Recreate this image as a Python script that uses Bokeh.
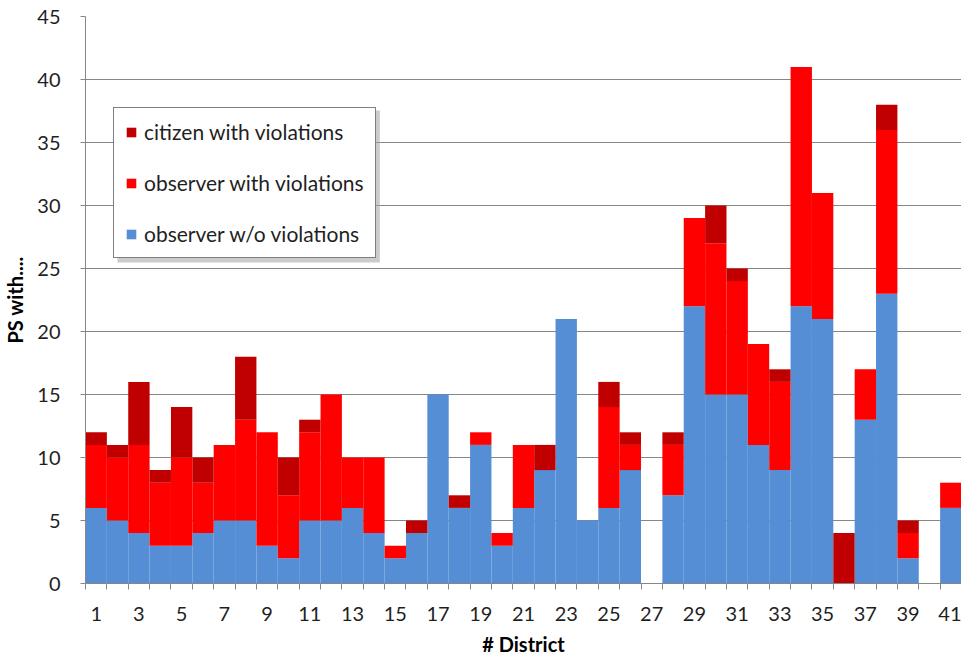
from bokeh.plotting import figure
from bokeh.models import (ColumnDataSource, FixedTicker, Legend, LegendItem,
                          Range1d, BoxAnnotation)
from bokeh.embed import file_html
from bokeh.resources import INLINE

districts = list(range(1, 42))
observer_wo = [6, 5, 4, 3, 3, 4, 5, 5, 3, 2, 5, 5, 6, 4, 2, 4, 15, 6, 11, 3, 6,
               9, 21, 5, 6, 9, 0, 7, 22, 15, 15, 11, 9, 22, 21, 0, 13, 23, 2, 0, 6]
observer_with = [5, 5, 7, 5, 7, 4, 6, 8, 9, 5, 7, 10, 4, 6, 1, 0, 0, 0, 1, 1, 5,
                 0, 0, 0, 8, 2, 0, 4, 7, 12, 9, 8, 7, 19, 10, 0, 4, 13, 2, 0, 2]
citizen_with = [1, 1, 5, 1, 4, 2, 0, 5, 0, 3, 1, 0, 0, 0, 0, 1, 0, 1, 0, 0, 0,
                2, 0, 0, 2, 1, 0, 1, 0, 3, 1, 0, 1, 0, 0, 4, 0, 2, 1, 0, 0]
series = ["observer_wo", "observer_with", "citizen_with"]
labels = ["observer w/o violations", "observer with violations", "citizen with violations"]
colors = ["#558ED5", "#FF0000", "#C00000"]
y_ticks = list(range(0, 46, 5))
x_label_ticks = list(range(1, 42, 2))
x_title = "# District"
y_title = "PS with...."

src = ColumnDataSource(dict(x=districts, observer_wo=observer_wo,
                            observer_with=observer_with, citizen_with=citizen_with))

W, H = 961, 658
BL, BR, BT, BB = 83, 0, 16, 75
p = figure(width=W, height=H, output_backend="svg", toolbar_location=None,
           x_range=Range1d(0.5, 41.5), y_range=Range1d(0, 45),
           min_border_left=BL, min_border_right=BR, min_border_top=BT,
           min_border_bottom=BB)
p.outline_line_color = None
p.background_fill_color = "white"

renderers = p.vbar_stack(series, x="x", width=1.0, source=src,
                         fill_color=colors, line_color=None)

FONT = "Lato"
GRAY = "#868686"
TXT = "#1f1f1f"

fw, fh = float(W - BL - BR), float(H - BT - BB)
xpx = 41.0 / fw
ypx = 45.0 / fh

# Y axis
p.yaxis.ticker = FixedTicker(ticks=y_ticks)
p.yaxis.axis_line_color = GRAY
p.yaxis.major_tick_line_color = GRAY
p.yaxis.major_tick_out = 5
p.yaxis.major_tick_in = 0
p.yaxis.minor_tick_line_color = None
p.yaxis.major_label_text_font = FONT
p.yaxis.major_label_text_font_size = "20px"
p.yaxis.major_label_text_color = TXT
p.yaxis.major_label_standoff = 20
p.yaxis.axis_label = y_title
p.yaxis.axis_label_text_font = FONT
p.yaxis.axis_label_text_font_style = "bold"
p.yaxis.axis_label_text_font_size = "20px"
p.yaxis.axis_label_text_color = "#000000"
p.yaxis.axis_label_standoff = 7

# X axis
p.xaxis.ticker = FixedTicker(ticks=x_label_ticks,
                             minor_ticks=[d - 0.5 for d in districts] + [41.5])
p.xaxis.axis_line_color = GRAY
p.xaxis.major_tick_line_color = GRAY
p.xaxis.major_tick_out = 6
p.xaxis.major_tick_in = 0
p.xaxis.major_tick_line_alpha = 0
p.xaxis.minor_tick_line_color = GRAY
p.xaxis.minor_tick_out = 6
p.xaxis.minor_tick_in = 0
p.xaxis.major_label_text_font = FONT
p.xaxis.major_label_text_font_size = "20px"
p.xaxis.major_label_text_color = TXT
p.xaxis.major_label_text_line_height = 1.0
p.xaxis.major_label_standoff = 17
p.xaxis.axis_label = x_title
p.xaxis.axis_label_text_font = FONT
p.xaxis.axis_label_text_font_style = "bold"
p.xaxis.axis_label_text_font_size = "20px"
p.xaxis.axis_label_text_color = "#000000"
p.xaxis.axis_label_text_line_height = 0.7
p.xaxis.axis_label_standoff = 8

p.xgrid.grid_line_color = None
p.ygrid.ticker = FixedTicker(ticks=y_ticks)
p.ygrid.grid_line_color = GRAY
p.ygrid.grid_line_width = 1

# legend shadow (decoration)
lx, ly, lw, lh = 28, 325, 263, 152
shadow = BoxAnnotation(left=0.5 + (lx + 4) * xpx, right=0.5 + (lx + lw + 4) * xpx,
                       bottom=(ly - 4) * ypx, top=(ly + lh - 4) * ypx,
                       fill_color="#a8a8a8", fill_alpha=0.6, line_color=None,
                       level="annotation")
p.add_layout(shadow)

items = [LegendItem(label=labels[i], renderers=[renderers[i]]) for i in [2, 1, 0]]
legend = Legend(items=items, location=(lx, ly), orientation="vertical",
                border_line_color="black", border_line_width=1.5,
                background_fill_color="white", background_fill_alpha=1.0,
                label_text_font=FONT, label_text_font_size="21px",
                label_text_color=TXT, glyph_width=12, glyph_height=12,
                label_standoff=7, label_height=21, spacing=26, padding=11,
                margin=0)
p.add_layout(legend)

open("out.html", "w").write(file_html(p, INLINE))
